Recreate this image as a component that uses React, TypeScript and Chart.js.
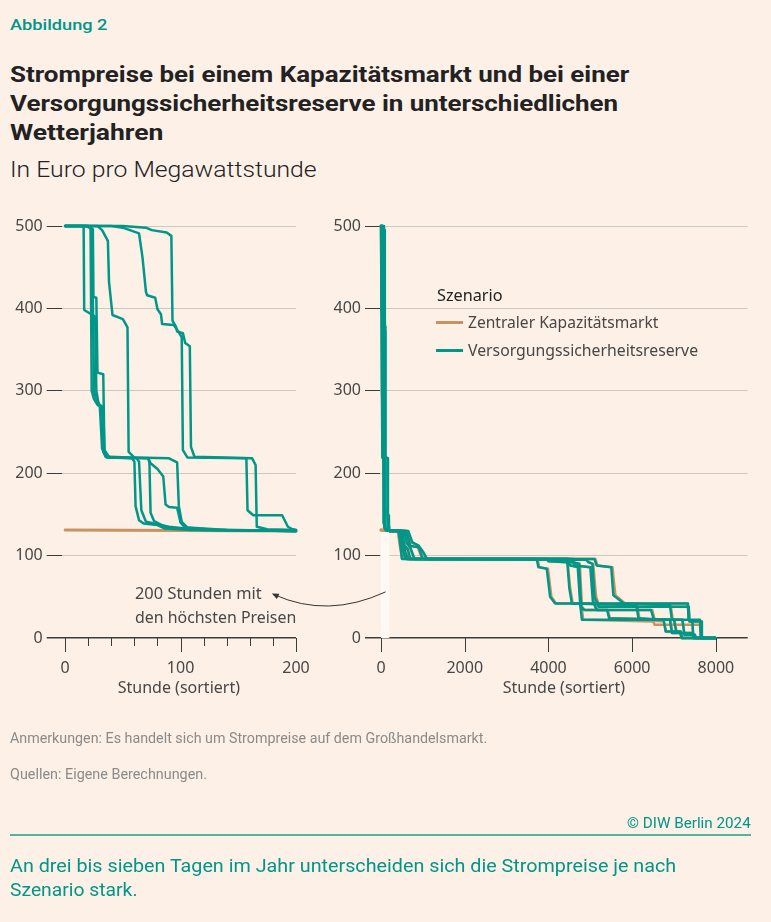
import React, { useEffect, useLayoutEffect, useRef, useState } from 'react';
import { Chart, registerables } from 'chart.js';

Chart.register(...registerables);

type Pt = [number, number];

// ---------- Data (hour rank, price in EUR/MWh) ----------
// Versorgungssicherheitsreserve, top 200 hours, seven weather years
const reserveTopYear1: Pt[] = [[0, 500], [14, 500], [16, 499], [16.5, 398], [26, 390], [27, 300], [29, 284], [33, 280], [34, 228], [37, 219], [58, 218], [60, 214], [61, 160], [64, 143], [68, 139], [80, 137], [86, 133], [110, 131], [200, 130]];
const reserveTopYear2: Pt[] = [[0, 500], [18, 500], [22, 497], [23, 300], [25, 290], [28, 283], [32, 280], [33, 226], [36, 219], [72, 218], [74, 212], [80, 205], [85, 196], [87, 162], [90, 159], [97, 158], [100, 140], [104, 134], [130, 131], [200, 130]];
const reserveTopYear3: Pt[] = [[0, 500], [20, 500], [24, 496], [24.5, 414], [27, 413], [28, 322], [33, 320], [34, 228], [38, 220], [72, 218], [73, 213], [74, 152], [77, 142], [88, 134], [120, 131], [200, 130]];
const reserveTopYear4: Pt[] = [[0, 500], [28, 500], [32, 495], [37, 482], [38, 432], [41, 392], [50, 387], [54, 377], [55, 226], [60, 219], [90, 218], [97, 213], [98.5, 160], [101, 141], [106, 134], [140, 131], [200, 130]];
const reserveTopYear5: Pt[] = [[0, 500], [20, 500], [23, 497], [24, 410], [25, 300], [27, 290], [30, 282], [32, 230], [35, 220], [62, 218], [64, 214], [66, 155], [70, 141], [90, 135], [110, 132], [200, 130]];
const reserveTopYear6: Pt[] = [[0, 500], [40, 500], [50, 498], [64, 491], [67, 462], [70, 420], [71, 416], [78, 413], [80, 399], [83, 393], [84, 381], [94, 380], [98, 372], [101, 365], [102, 228], [106, 219], [157, 218], [158, 155], [163, 149], [188, 149], [193, 135], [197, 132], [200, 131]];
const reserveTopYear7: Pt[] = [[0, 500], [50, 500], [70, 498], [75, 495], [88, 492], [92, 488], [93, 385], [96, 378], [97, 372], [102, 370], [104, 358], [108, 354], [109, 232], [112, 220], [162, 218], [165, 210], [166, 135], [175, 132], [200, 131]];

// Versorgungssicherheitsreserve, remaining hours of the year
const reserveTailYear1: Pt[] = [[420, 130], [470, 110], [500, 96], [3720, 96], [3760, 86], [3960, 84], [4040, 50], [4160, 42], [7330, 42], [7350, 22], [7440, 20], [7460, 0], [7990, 0]];
const reserveTailYear2: Pt[] = [[450, 130], [500, 115], [560, 100], [600, 96], [3960, 96], [4000, 93], [4450, 92], [4500, 60], [4560, 42], [6100, 40], [6150, 24], [6750, 22], [6800, 8], [7160, 8], [7190, 0], [7990, 0]];
const reserveTailYear3: Pt[] = [[500, 130], [560, 112], [640, 108], [700, 96], [4450, 96], [4520, 88], [4700, 86], [4760, 40], [4800, 22], [7620, 22], [7640, 0], [7990, 0]];
const reserveTailYear4: Pt[] = [[550, 130], [620, 115], [700, 110], [800, 96], [4500, 96], [4550, 92], [4730, 90], [4780, 38], [4850, 34], [5400, 34], [5450, 24], [6900, 22], [6950, 6], [7450, 6], [7480, 0], [7990, 0]];
const reserveTailYear5: Pt[] = [[600, 130], [700, 112], [900, 110], [1000, 96], [4900, 95], [4950, 92], [5050, 90], [5100, 50], [5200, 38], [7350, 38], [7370, 20], [7650, 20], [7665, 0], [7990, 0]];
const reserveTailYear6: Pt[] = [[650, 130], [750, 116], [900, 112], [1000, 105], [1100, 96], [5100, 96], [5150, 88], [5500, 86], [5550, 52], [5800, 42], [6900, 40], [6950, 22], [7200, 22], [7250, 4], [7500, 4], [7520, 0], [7990, 0]];
const reserveTailYear7: Pt[] = [[500, 130], [580, 104], [650, 96], [4580, 96], [4620, 88], [5000, 86], [5060, 45], [5150, 34], [6450, 34], [6520, 22], [7000, 22], [7050, 8], [7150, 6], [7180, 0], [7990, 0]];

// Zentraler Kapazitätsmarkt
const capacityTop: Pt[] = [[0, 131], [200, 130]];
const capacityTailYear1: Pt[] = [[400, 130], [450, 112], [500, 97], [3740, 96], [3780, 86], [3990, 84], [4070, 50], [4180, 42], [7330, 42], [7350, 22], [7440, 20], [7460, 0], [7990, 0]];
const capacityTailYear2: Pt[] = [[430, 130], [490, 116], [540, 100], [590, 96], [3980, 96], [4020, 93], [4460, 92], [4520, 60], [4580, 42], [6120, 40], [6180, 22], [6760, 20], [6810, 8], [7160, 8], [7190, 0], [7990, 0]];
const capacityTailYear3: Pt[] = [[480, 130], [540, 112], [620, 108], [690, 96], [4470, 96], [4540, 88], [4720, 86], [4790, 40], [4830, 22], [6500, 20], [6540, 16], [7620, 16], [7640, 0], [7990, 0]];
const capacityTailYear4: Pt[] = [[520, 130], [600, 115], [690, 110], [780, 96], [4510, 96], [4570, 92], [4750, 90], [4800, 38], [4870, 34], [5420, 34], [5470, 24], [6920, 22], [6960, 6], [7450, 6], [7480, 0], [7990, 0]];
const capacityTailYear5: Pt[] = [[560, 130], [680, 112], [880, 110], [980, 96], [4920, 95], [4970, 92], [5070, 90], [5120, 60], [5140, 50], [5220, 38], [7350, 38], [7370, 20], [7650, 20], [7665, 0], [7990, 0]];
const capacityTailYear6: Pt[] = [[620, 130], [730, 116], [880, 112], [990, 105], [1080, 96], [5120, 96], [5170, 88], [5530, 86], [5560, 70], [5600, 52], [5830, 42], [6920, 40], [6970, 22], [7200, 22], [7250, 4], [7500, 4], [7520, 0], [7990, 0]];
const capacityTailYear7: Pt[] = [[480, 130], [560, 104], [640, 96], [4600, 96], [4640, 88], [5020, 86], [5080, 45], [5170, 34], [6480, 34], [6540, 22], [7010, 22], [7060, 8], [7150, 6], [7180, 0], [7990, 0]];

const reserveTops = [reserveTopYear1, reserveTopYear2, reserveTopYear3, reserveTopYear4, reserveTopYear5, reserveTopYear6, reserveTopYear7];
const reserveTails = [reserveTailYear1, reserveTailYear2, reserveTailYear3, reserveTailYear4, reserveTailYear5, reserveTailYear6, reserveTailYear7];
const capacityTails = [capacityTailYear1, capacityTailYear2, capacityTailYear3, capacityTailYear4, capacityTailYear5, capacityTailYear6, capacityTailYear7];

// Axis ticks
const priceTicks = [0, 100, 200, 300, 400, 500];
const topHourTicks = [0, 20, 40, 60, 80, 100, 120, 140, 160, 180, 200];
const topHourLabels = [0, 100, 200];
const allHourTicks = [0, 2000, 4000, 6000, 8000];
const allHourLabels = [0, 2000, 4000, 6000, 8000];

// Highlight band (top 200 hours) and annotation arrow anchors
const BAND_HOURS: [number, number] = [0, 200];
const BAND_PRICE: [number, number] = [0, 130];
const ARROW_FROM = { hours: 110, price: 56 };
const ARROW_TO = { hours: 179, price: 54 };

// ---------- Styles ----------
const PAGE_BG = '#fcf0e7';
const TEAL = '#009688';
const TAN = '#c8935f';
const GRID = '#ccc8c4';
const AXIS = '#3c3c3c';
const TICK_TEXT = '#474747';
const CHART_FONT = '"Noto Sans", "Open Sans", sans-serif';
const TEXT_FONT = 'Roboto, "Noto Sans", sans-serif';

const CHART_TOP = 200;
const RIGHT_LEFT = 320;

const toXY = (pts: Pt[]) => pts.map(([x, y]) => ({ x, y }));

function makeTickPlugin(majorLabels: number[], majorLen: number, minorLen: number) {
  return {
    id: 'hourTicks',
    afterDraw(chart: any) {
      const { ctx, chartArea, scales } = chart;
      const x = scales.x;
      ctx.save();
      ctx.strokeStyle = AXIS;
      ctx.lineWidth = 1;
      x.ticks.forEach((t: any) => {
        const px = Math.round(x.getPixelForValue(t.value)) + 0.5;
        const len = majorLabels.includes(t.value) ? majorLen : minorLen;
        ctx.beginPath();
        ctx.moveTo(px, chartArea.bottom);
        ctx.lineTo(px, chartArea.bottom + len);
        ctx.stroke();
      });
      ctx.restore();
    },
  };
}

const bandPlugin = {
  id: 'band',
  beforeDatasetsDraw(chart: any) {
    const { ctx, scales } = chart;
    const x0 = scales.x.getPixelForValue(BAND_HOURS[0]);
    const x1 = scales.x.getPixelForValue(BAND_HOURS[1]);
    const y0 = scales.y.getPixelForValue(BAND_PRICE[1]);
    const y1 = scales.y.getPixelForValue(BAND_PRICE[0]);
    ctx.save();
    ctx.fillStyle = '#fef9f4';
    ctx.fillRect(x0, y0, x1 - x0, y1 - y0);
    ctx.restore();
  },
};

function buildOptions(xMin: number, xMax: number, xTicks: number[], xLabels: number[], yWidth: number, padRight: number): any {
  return {
    responsive: false,
    animation: false,
    events: [],
    layout: { padding: { top: 26, right: padRight, bottom: 2, left: 0 } },
    plugins: { legend: { display: false }, tooltip: { enabled: false } },
    elements: {
      point: { radius: 0 },
      line: { tension: 0, borderJoinStyle: 'round', borderCapStyle: 'round' },
    },
    scales: {
      x: {
        type: 'linear',
        min: xMin,
        max: xMax,
        afterBuildTicks: (s: any) => { s.ticks = xTicks.map((v) => ({ value: v })); },
        ticks: {
          autoSkip: false,
          maxRotation: 0,
          padding: 0,
          color: TICK_TEXT,
          font: { size: 16, family: CHART_FONT },
          callback: (v: any) => (xLabels.includes(v) ? String(v) : ''),
        },
        grid: { display: true, drawOnChartArea: false, drawTicks: true, tickLength: 21, tickColor: 'rgba(0,0,0,0)', color: 'rgba(0,0,0,0)' },
        border: { display: false },
        title: { display: true, text: 'Stunde (sortiert)', color: TICK_TEXT, font: { size: 16, family: CHART_FONT }, padding: 0 },
        afterFit: (s: any) => { s.height = 60; },
      },
      y: {
        min: 0,
        max: 500,
        afterBuildTicks: (s: any) => { s.ticks = priceTicks.map((v) => ({ value: v })); },
        ticks: { padding: 4, color: TICK_TEXT, font: { size: 16, family: CHART_FONT } },
        grid: {
          color: (c: any) => (c.tick && c.tick.value === 0 ? AXIS : GRID),
          lineWidth: (c: any) => (c.tick && c.tick.value === 0 ? 1.5 : 1),
          tickColor: AXIS,
          tickLength: 15,
          drawTicks: true,
        },
        border: { display: false },
        afterFit: (s: any) => { s.width = yWidth; },
      },
    },
  };
}

type FitProps = {
  text: string; left?: number; right?: number; cy: number; width: number;
  size: number; weight?: number; color: string; family?: string;
};

function FitText({ text, left, right, cy, width, size, weight = 400, color, family = TEXT_FONT }: FitProps) {
  const ref = useRef<HTMLSpanElement>(null);
  const [scale, setScale] = useState(1);
  useLayoutEffect(() => {
    if (ref.current) {
      const w = ref.current.offsetWidth;
      if (w > 0) setScale(width / w);
    }
  }, [text, width, size, family]);
  const h = Math.round(size * 1.25);
  const style: React.CSSProperties = {
    position: 'absolute',
    top: cy - h / 2,
    height: h,
    lineHeight: `${h}px`,
    fontSize: size,
    fontWeight: weight,
    fontFamily: family,
    color,
    whiteSpace: 'nowrap',
    transform: `scaleX(${scale})`,
    transformOrigin: right !== undefined ? 'right center' : 'left center',
  };
  if (right !== undefined) style.right = 771 - right; else style.left = left;
  return <span ref={ref} style={style}>{text}</span>;
}

export default function App() {
  const leftRef = useRef<HTMLCanvasElement>(null);
  const rightRef = useRef<HTMLCanvasElement>(null);
  const [arrow, setArrow] = useState<null | { x0: number; y0: number; x1: number; y1: number }>(null);

  useEffect(() => {
    document.body.style.margin = '0';
    document.body.style.background = PAGE_BG;

    const leftDatasets: any[] = [
      ...reserveTops.map((d) => ({ data: toXY(d), borderColor: TEAL, borderWidth: 2.5, order: 0, fill: false, clip: 6 })),
      { data: toXY(capacityTop), borderColor: TAN, borderWidth: 3, order: 1, fill: false, clip: 6 },
    ];
    const rightDatasets: any[] = [
      ...reserveTops.map((d, i) => ({ data: toXY([...d, ...reserveTails[i]]), borderColor: TEAL, borderWidth: 2.5, order: 0, fill: false, clip: 6 })),
      ...capacityTails.map((d) => ({ data: toXY([...capacityTop, ...d]), borderColor: TAN, borderWidth: 2.5, order: 1, fill: false, clip: 6 })),
    ];

    const left = new Chart(leftRef.current!, {
      type: 'line',
      data: { datasets: leftDatasets },
      options: buildOptions(-3, 200, topHourTicks, topHourLabels, 61.7, 24),
      plugins: [makeTickPlugin(topHourLabels, 14, 8)],
    });
    const right = new Chart(rightRef.current!, {
      type: 'line',
      data: { datasets: rightDatasets },
      options: buildOptions(-24, 8760, allHourTicks, allHourLabels, 60, 23.3),
      plugins: [bandPlugin, makeTickPlugin(allHourLabels, 14, 8)],
    });

    const rx = (right as any).scales.x, ry = (right as any).scales.y;
    const lx = (left as any).scales.x, ly = (left as any).scales.y;
    setArrow({
      x0: RIGHT_LEFT + rx.getPixelForValue(ARROW_FROM.hours),
      y0: CHART_TOP + ry.getPixelForValue(ARROW_FROM.price),
      x1: lx.getPixelForValue(ARROW_TO.hours),
      y1: CHART_TOP + ly.getPixelForValue(ARROW_TO.price),
    });

    return () => { left.destroy(); right.destroy(); };
  }, []);

  let arrowEl: React.ReactNode = null;
  if (arrow) {
    const { x0, y0, x1, y1 } = arrow;
    const cx = (x0 + x1) / 2 - 1;
    const cy = (y0 + y1) / 2 + 26;
    let dx = x1 - cx, dy = y1 - cy;
    const len = Math.hypot(dx, dy);
    dx /= len; dy /= len;
    const bx = x1 - dx * 7, by = y1 - dy * 7;
    const nx = -dy * 3, ny = dx * 3;
    arrowEl = (
      <svg width={771} height={922} style={{ position: 'absolute', left: 0, top: 0, pointerEvents: 'none' }}>
        <path d={`M ${x0} ${y0} Q ${cx} ${cy} ${x1 - dx * 3} ${y1 - dy * 3}`} stroke="#333" strokeWidth={1} fill="none" />
        <polygon points={`${x1},${y1} ${bx + nx},${by + ny} ${bx - nx},${by - ny}`} fill="#333" />
      </svg>
    );
  }

  return (
    <div style={{ position: 'absolute', left: 0, top: 0, width: 771, height: 922, background: PAGE_BG, overflow: 'hidden' }}>
      <FitText text="Abbildung 2" left={10} cy={25} width={97} size={15} weight={500} color={TEAL} />
      <FitText text="Strompreise bei einem Kapazitätsmarkt und bei einer" left={10} cy={75} width={619} size={22} weight={700} color="#222" />
      <FitText text="Versorgungssicherheitsreserve in unterschiedlichen" left={10} cy={104} width={608} size={22} weight={700} color="#222" />
      <FitText text="Wetterjahren" left={10} cy={133} width={154} size={22} weight={700} color="#222" />
      <FitText text="In Euro pro Megawattstunde" left={10} cy={170} width={307} size={22} weight={300} color="#222" />

      <canvas ref={leftRef} width={320} height={500} style={{ position: 'absolute', left: 0, top: CHART_TOP }} />
      <canvas ref={rightRef} width={451} height={500} style={{ position: 'absolute', left: RIGHT_LEFT, top: CHART_TOP }} />

      <FitText text="Szenario" left={437} cy={295} width={66} size={16} color="#222" family={CHART_FONT} />
      <div style={{ position: 'absolute', left: 436, top: 321, width: 27, height: 2.5, background: TAN }} />
      <FitText text="Zentraler Kapazitätsmarkt" left={468} cy={322} width={190} size={16} color={TICK_TEXT} family={CHART_FONT} />
      <div style={{ position: 'absolute', left: 436, top: 349, width: 27, height: 2.5, background: TEAL }} />
      <FitText text="Versorgungssicherheitsreserve" left={468} cy={350} width={230} size={16} color={TICK_TEXT} family={CHART_FONT} />

      <FitText text="200 Stunden mit" left={135} cy={593} width={127} size={16} color={TICK_TEXT} family={CHART_FONT} />
      <FitText text="den höchsten Preisen" left={135} cy={617} width={161} size={16} color={TICK_TEXT} family={CHART_FONT} />
      {arrowEl}

      <FitText text="Anmerkungen: Es handelt sich um Strompreise auf dem Großhandelsmarkt." left={10} cy={738} width={477} size={14} color="#8a8a8a" />
      <FitText text="Quellen: Eigene Berechnungen." left={10} cy={774} width={197} size={14} color="#8a8a8a" />
      <FitText text="© DIW Berlin 2024" right={751} cy={823} width={124} size={14} color={TEAL} />
      <div style={{ position: 'absolute', left: 10, top: 834, width: 741, height: 2, background: '#52b2a6' }} />
      <FitText text="An drei bis sieben Tagen im Jahr unterscheiden sich die Strompreise je nach" left={10} cy={866} width={666} size={19} color={TEAL} />
      <FitText text="Szenario stark." left={10} cy={890} width={128} size={19} color={TEAL} />
    </div>
  );
}
